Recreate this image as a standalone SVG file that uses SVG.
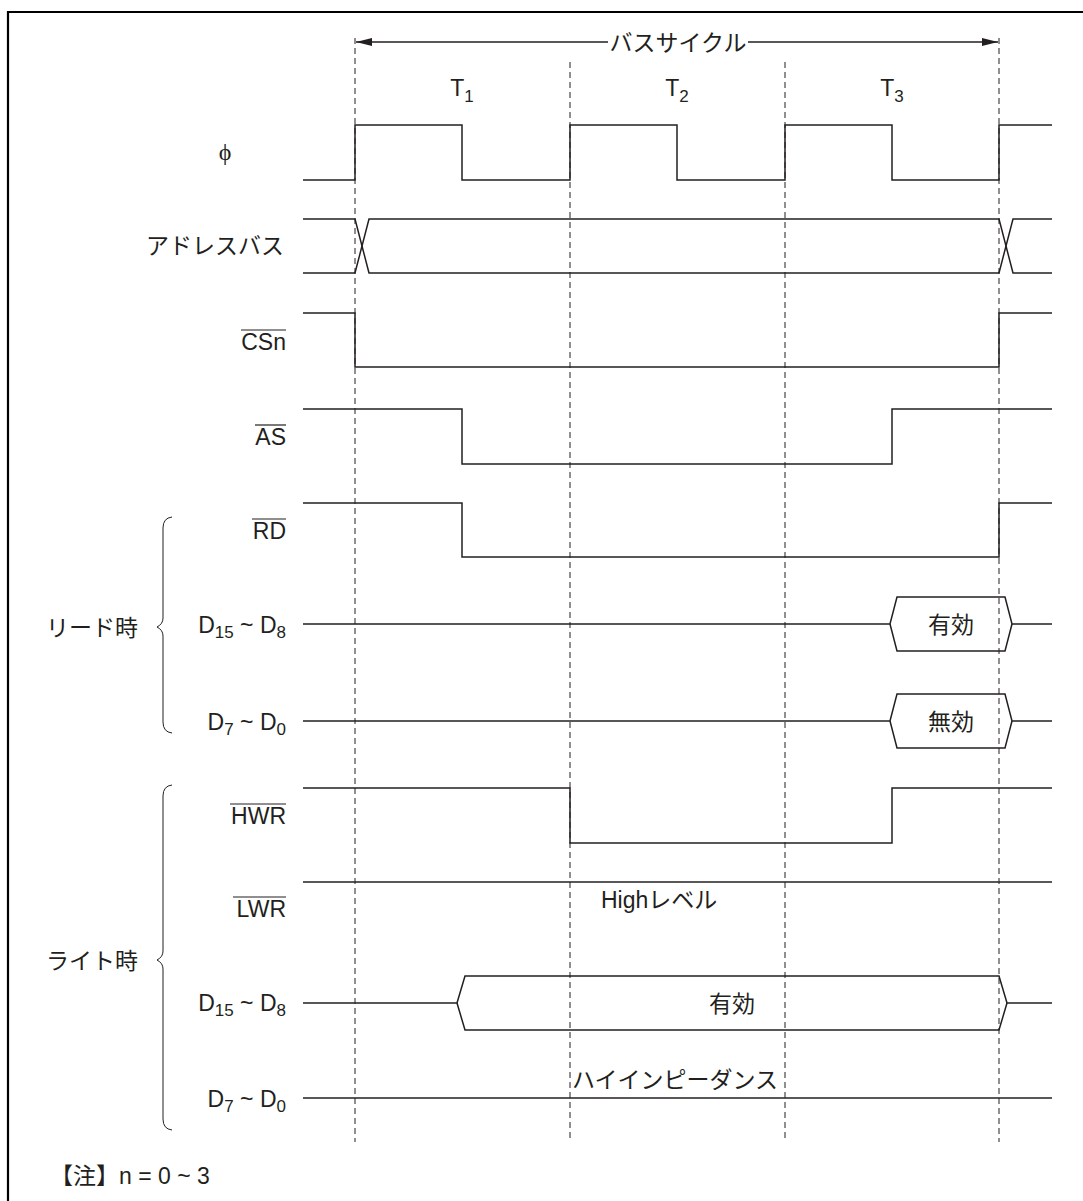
<svg xmlns="http://www.w3.org/2000/svg" width="1083" height="1201" viewBox="0 0 1083 1201">
<defs>
<style>
.sig{fill:none;stroke:#231f20;stroke-width:1.5;stroke-linejoin:miter}
.dash{fill:none;stroke:#231f20;stroke-width:1;stroke-dasharray:6 4}
.brace{fill:none;stroke:#231f20;stroke-width:1}
.ov{fill:none;stroke:#231f20;stroke-width:1.2}
.frame{fill:none;stroke:#000;stroke-width:2.2}
text{font-family:"Liberation Sans","Noto Sans CJK JP",sans-serif;font-size:23px;fill:#231f20}
.r{text-anchor:end}
.m{text-anchor:middle}
.sub{font-size:17px}
</style>
<marker id="ah" viewBox="0 0 16 8" refX="16" refY="4" markerWidth="16" markerHeight="8" markerUnits="userSpaceOnUse" orient="auto-start-reverse">
<path d="M0,0 L16,4 L0,8 Z" fill="#231f20"/>
</marker>
</defs>
<rect width="1083" height="1201" fill="#fff"/>
<path class="frame" d="M8,1201 V12 H1083"/>

<g id="grid">
<line class="dash" x1="355" y1="38" x2="355" y2="1142"/>
<line class="dash" x1="570" y1="62" x2="570" y2="1142"/>
<line class="dash" x1="785" y1="62" x2="785" y2="1142"/>
<line class="dash" x1="999" y1="38" x2="999" y2="1142"/>
</g>

<g id="buscycle">
<line class="sig" x1="356" y1="42" x2="608" y2="42" marker-start="url(#ah)"/>
<line class="sig" x1="748" y1="42" x2="998" y2="42" marker-end="url(#ah)"/>
<text class="m" x="678" y="51">バスサイクル</text>
<text class="m" x="462" y="96">T<tspan class="sub" dy="6">1</tspan></text>
<text class="m" x="677" y="96">T<tspan class="sub" dy="6">2</tspan></text>
<text class="m" x="892" y="96">T<tspan class="sub" dy="6">3</tspan></text>
</g>

<g id="phi">
<text class="m" x="225" y="160" style="font-family:'Liberation Serif','DejaVu Serif',serif;font-size:24px">ϕ</text>
<path class="sig" d="M303,180 H355 V125 H462 V180 H570 V125 H677 V180 H785 V125 H892 V180 H999 V125 H1052"/>
</g>

<g id="addressbus">
<text class="r" x="284" y="254">アドレスバス</text>
<path class="sig" d="M303,219 H355 L369,273 H999 L1013,219 H1052"/>
<path class="sig" d="M303,273 H355 L369,219 H999 L1013,273 H1052"/>
</g>

<g id="csn">
<text class="r" x="286" y="350">CSn</text>
<line class="ov" x1="241" y1="330" x2="286" y2="330"/>
<path class="sig" d="M303,313 H355 V367 H999 V313 H1052"/>
</g>

<g id="as">
<text class="r" x="286" y="445">AS</text>
<line class="ov" x1="255" y1="425" x2="286" y2="425"/>
<path class="sig" d="M303,409 H462 V464 H892 V409 H1052"/>
</g>

<g id="rd">
<text class="r" x="286" y="539">RD</text>
<line class="ov" x1="252" y1="519" x2="286" y2="519"/>
<path class="sig" d="M303,503 H462 V557 H999 V503 H1052"/>
</g>

<g id="read">
<text x="46" y="636">リード時</text>
<path class="brace" d="M172,517 Q163,518 163,528 V618 Q163,624 157,627 Q163,630 163,636 V722 Q163,732 172,733"/>
</g>

<g id="read-d15">
<text class="r" x="286" y="633">D<tspan class="sub" dy="5">15</tspan><tspan dy="-5"> ~ D</tspan><tspan class="sub" dy="5">8</tspan></text>
<path class="sig" d="M303,624 H890 L897,597 H1005 L1012,624 H1052"/>
<path class="sig" d="M890,624 L897,651 H1005 L1012,624"/>
<text class="m" x="951" y="633">有効</text>
</g>

<g id="read-d7">
<text class="r" x="286" y="730">D<tspan class="sub" dy="5">7</tspan><tspan dy="-5"> ~ D</tspan><tspan class="sub" dy="5">0</tspan></text>
<path class="sig" d="M303,721 H890 L897,694 H1005 L1012,721 H1052"/>
<path class="sig" d="M890,721 L897,748 H1005 L1012,721"/>
<text class="m" x="951" y="730">無効</text>
</g>

<g id="hwr">
<text class="r" x="286" y="824">HWR</text>
<line class="ov" x1="230" y1="804" x2="286" y2="804"/>
<path class="sig" d="M303,788 H570 V843 H892 V788 H1052"/>
</g>

<g id="lwr">
<text class="r" x="286" y="917">LWR</text>
<line class="ov" x1="233" y1="897" x2="286" y2="897"/>
<path class="sig" d="M303,882 H1052"/>
<text x="601" y="908">Highレベル</text>
</g>

<g id="write">
<text x="46" y="969">ライト時</text>
<path class="brace" d="M172,785 Q163,786 163,796 V951 Q163,957 157,960 Q163,963 163,969 V1119 Q163,1129 172,1130"/>
</g>

<g id="write-d15">
<text class="r" x="286" y="1011">D<tspan class="sub" dy="5">15</tspan><tspan dy="-5"> ~ D</tspan><tspan class="sub" dy="5">8</tspan></text>
<path class="sig" d="M303,1003 H457 L465,976 H999 L1007,1003 H1052"/>
<path class="sig" d="M457,1003 L465,1030 H999 L1007,1003"/>
<text class="m" x="732" y="1012">有効</text>
</g>

<g id="write-d7">
<text class="r" x="286" y="1107">D<tspan class="sub" dy="5">7</tspan><tspan dy="-5"> ~ D</tspan><tspan class="sub" dy="5">0</tspan></text>
<path class="sig" d="M303,1098 H1052"/>
<text x="572" y="1088">ハイインピーダンス</text>
</g>

<g id="note">
<text x="50" y="1184">【注】n = 0 ~ 3</text>
</g>
</svg>
